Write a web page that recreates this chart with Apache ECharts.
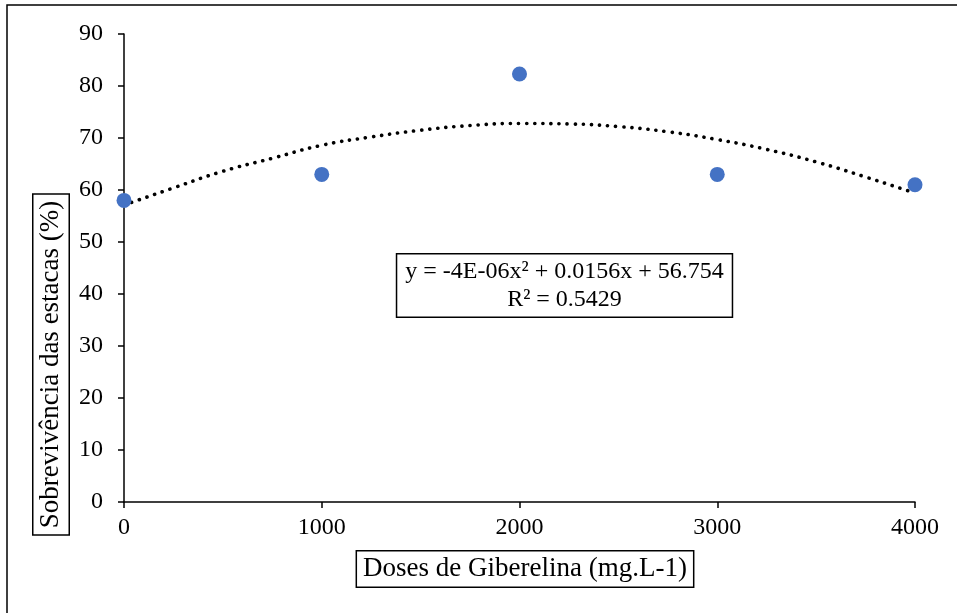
<!DOCTYPE html>
<html>
<head>
<meta charset="utf-8">
<script src="https://cdn.jsdelivr.net/npm/echarts@6/dist/echarts.min.js"></script>
<style>
html,body{margin:0;padding:0;background:#fff;}
#chart{width:957px;height:613px;}
</style>
</head>
<body>
<div id="chart"></div>
<script>
// Data
const doses = [0, 1000, 2000, 3000, 4000];
const survival = [58.0, 63.0, 82.3, 63.0, 61.0];
const trendDoses = [0, 250, 500, 750, 1000, 1250, 1500, 1750, 2000, 2250, 2500, 2750, 3000, 3250, 3500, 3750, 4000];
const trendValues = [57.1, 60.4, 63.6, 66.1, 68.6, 70.2, 71.5, 72.4, 72.8, 72.7, 72.2, 71.2, 69.7, 67.8, 65.4, 62.5, 59.4];
const yTicks = [0, 10, 20, 30, 40, 50, 60, 70, 80, 90];
const xTicks = [0, 1000, 2000, 3000, 4000];
const yTitle = 'Sobrevivência das estacas (%)';
const xTitle = 'Doses de Giberelina (mg.L-1)';
const equation = 'y = -4E-06x² + 0.0156x + 56.754';
const rSquared = 'R² = 0.5429';

const FONT = '"Liberation Serif", "Times New Roman", serif';

const chart = echarts.init(document.getElementById('chart'), null, {renderer: 'canvas'});
chart.setOption({
  animation: false,
  backgroundColor: '#fff',
  grid: {left: 124, right: 42, top: 34, bottom: 111, containLabel: false},
  xAxis: {
    type: 'value',
    min: xTicks[0], max: xTicks[xTicks.length - 1], interval: 1000,
    axisLine: {show: true, lineStyle: {color: '#000', width: 1.5}},
    axisTick: {show: true, length: 6, lineStyle: {color: '#000', width: 1.5}},
    axisLabel: {color: '#000', fontFamily: FONT, fontSize: 24, margin: 14,
      formatter: v => String(v)},
    splitLine: {show: false}
  },
  yAxis: {
    type: 'value',
    min: yTicks[0], max: yTicks[yTicks.length - 1], interval: 10,
    axisLine: {show: true, lineStyle: {color: '#000', width: 1.5}},
    axisTick: {show: true, length: 6, lineStyle: {color: '#000', width: 1.5}},
    axisLabel: {color: '#000', fontFamily: FONT, fontSize: 24, margin: 21,
      formatter: v => String(v)},
    splitLine: {show: false}
  },
  series: [
    {
      type: 'line',
      data: trendDoses.map((d, i) => [d, trendValues[i]]),
      smooth: true,
      showSymbol: false,
      symbol: 'none',
      lineStyle: {color: '#000', width: 3.6, type: [0.1, 8], cap: 'round'},
      z: 2
    },
    {
      type: 'scatter',
      data: doses.map((d, i) => [d, survival[i]]),
      symbol: 'circle',
      symbolSize: 15,
      itemStyle: {color: '#4472C4', opacity: 1},
      z: 3
    }
  ],
  graphic: [
    {
      type: 'rect',
      shape: {x: 7, y: 5, width: 960, height: 620},
      style: {fill: 'none', stroke: '#000', lineWidth: 1.5},
      silent: true
    },
    {
      type: 'text',
      x: 51, y: 364.5,
      rotation: Math.PI / 2,
      style: {
        text: yTitle, font: '27px ' + FONT, fill: '#000',
        align: 'center', verticalAlign: 'middle',
        backgroundColor: '#fff', borderColor: '#000', borderWidth: 1.5,
        padding: [4, 6, 4, 6]
      }
    },
    {
      type: 'text',
      x: 525, y: 569,
      style: {
        text: xTitle, font: '27px ' + FONT, fill: '#000',
        align: 'center', verticalAlign: 'middle',
        backgroundColor: '#fff', borderColor: '#000', borderWidth: 1.5,
        padding: [4, 6, 4, 6]
      }
    },
    {
      type: 'text',
      x: 564.5, y: 285.5,
      style: {
        text: equation + '\n' + rSquared, font: '24px ' + FONT, fill: '#000',
        align: 'center', verticalAlign: 'middle', lineHeight: 28,
        backgroundColor: '#fff', borderColor: '#000', borderWidth: 1.5,
        padding: [3, 8, 3, 8]
      }
    }
  ]
});
</script>
</body>
</html>
